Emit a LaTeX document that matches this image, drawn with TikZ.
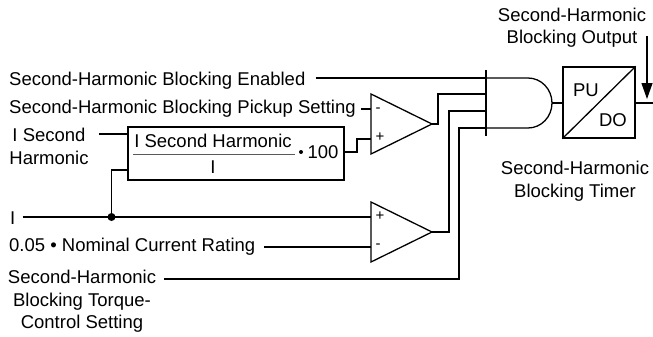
\documentclass[tikz,border=0pt]{standalone}
\usepackage{fontspec}
\setmainfont{Liberation Sans}
\usetikzlibrary{arrows.meta}
\tikzset{
  wire/.style={line width=1.3pt},
  lbl/.style={inner sep=0pt,font=\fontsize{18.5}{22.5}\selectfont},
  blockbox/.style={draw,line width=1.3pt,inner sep=0pt},
  sign/.style={inner sep=0pt,font=\fontsize{15}{16}\selectfont}
}
\begin{document}
\begin{tikzpicture}[x=1pt,y=-1pt]
        \useasboundingbox (0,0) rectangle (653,337);
        %Labels
            \node [lbl,anchor=west] (enabled) at (9,80.5) {Second-Harmonic Blocking Enabled};
            \node [lbl,anchor=west] (pickup) at (9,108.5) {Second-Harmonic Blocking Pickup Setting};
            \node [lbl,align=center] (isecond) at (49,146.5) {I Second\\Harmonic};
            \node [lbl,anchor=west] (icur) at (10,218) {I};
            \node [lbl,anchor=west] (nominal) at (9,247) {0.05 • Nominal Current Rating};
            \node [lbl,align=center] (torque) at (82,301.5) {Second-Harmonic\\Blocking Torque-\\Control Setting};
            \node [lbl,align=center] (output) at (572,27.5) {Second-Harmonic\\Blocking Output};
            \node [lbl,align=center] (timerlbl) at (575,181) {Second-Harmonic\\Blocking Timer};
        %Ratio block
            \node [blockbox,minimum width=216,minimum height=53] (ratio) at (236,153.5) {};
            \node [lbl] (numer) at (213,141) {I Second Harmonic};
            \node [lbl] (denom) at (213,167) {I};
            \node [lbl] (hundred) at (323,152) {100};
            \node [inner sep=0pt,circle,fill,minimum size=4] (dotmul) at (301,152) {};
            \draw [line width=0.9pt,gray!70!black] (133,154) -- (295,154);
        %Comparators
            \coordinate (c1top) at (371,94);
            \coordinate (c1bot) at (371,154);
            \coordinate (c1out) at (432,124);
            \coordinate (c1neg) at (371,109);
            \coordinate (c1pos) at (371,139);
            \draw [wire,line join=miter] (c1top) -- (c1out) -- (c1bot) -- cycle;
            \node [sign] (c1minus) at (378,110) {-};
            \node [sign] (c1plus) at (380,137) {+};
            \coordinate (c2top) at (371,202);
            \coordinate (c2bot) at (371,262);
            \coordinate (c2out) at (432,232);
            \coordinate (c2pos) at (371,217);
            \coordinate (c2neg) at (371,247);
            \draw [wire,line join=miter] (c2top) -- (c2out) -- (c2bot) -- cycle;
            \node [sign] (c2plus) at (380,216) {+};
            \node [sign] (c2minus) at (378,246) {-};
        %AND gate
            \coordinate (andtop) at (486,70);
            \coordinate (andbot) at (486,136);
            \coordinate (and1) at (486,78);
            \coordinate (and2) at (486,94);
            \coordinate (and3) at (486,111);
            \coordinate (and4) at (486,128);
            \coordinate (andout) at (552,103);
            \draw [wire] (andtop) -- (andbot);
            \draw [wire] (and1) -- (528,78) arc [start angle=90,end angle=-90,x radius=24,y radius=-25] -- (and4);
        %Timer
            \node [blockbox,minimum width=72,minimum height=71] (timer) at (599,102.5) {};
            \draw [wire] (timer.south west) -- (timer.north east);
            \node [lbl] (pu) at (586,90) {PU};
            \node [lbl] (do) at (613,120) {DO};
            \coordinate (timerend) at (653,103);
            \coordinate (outtop) at (647,36);
            \coordinate (outtip) at (647,99);
        %Connectors
            \coordinate (ratioin) at (128,134);
            \coordinate (ratiobr) at (128,170);
            \coordinate (ratioout) at (344,152);
            \coordinate (junction) at (111.5,217);
            \draw [wire,shorten <=10] (enabled.east |- and1) -- (and1);
            \draw [wire,shorten <=5] (pickup.east |- c1neg) -- (c1neg);
            \draw [wire,shorten <=10] (isecond.east |- ratioin) -- (ratioin);
            \draw [wire,shorten <=7] (icur.east |- c2pos) -- (c2pos);
            \draw [wire,shorten <=9] (nominal.east |- c2neg) -- (c2neg);
            \draw [wire] (ratioout) -- (357,152) -- (357,139) -- (c1pos);
            \draw [wire] (ratiobr) -| (junction);
            \fill (junction) circle (4);
            \draw [wire] (c1out) -- (438,124) -- (438,94) -- (and2);
            \draw [wire] (c2out) -| (449,111) -- (and3);
            \draw [wire,shorten <=8] (torque.east |- 0,279) -- (459,279) -- (459,128) -- (and4);
            \draw [wire] (andout) -- (timer.west |- andout);
            \draw [wire] (timer.east |- timerend) -- (timerend);
            \draw [wire,-{Triangle[length=16,width=11]}] (outtop) -- (outtip);
        \end{tikzpicture}
\end{document}
